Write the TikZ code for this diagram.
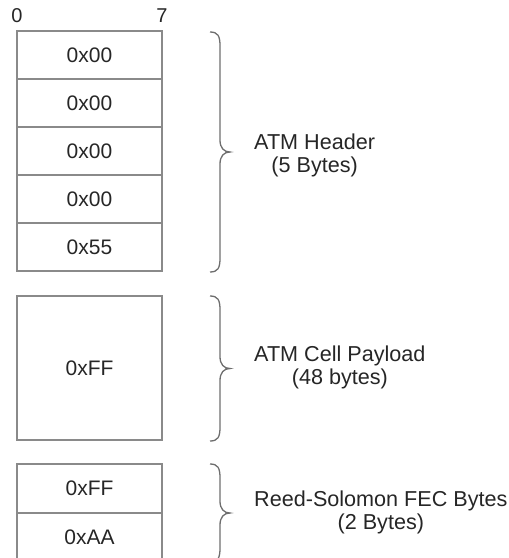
\documentclass[tikz,border=0pt]{standalone}
\usepackage{fontspec}
\setmainfont{Liberation Sans}
\begin{document}
\begin{tikzpicture}[x=1pt,y=-1pt,
  cell/.style={draw=boxgray,line width=1.3pt,minimum width=145pt,inner sep=0pt,outer sep=0pt,font=\fontsize{21}{23}\selectfont,text=black!85},
  lbl/.style={anchor=west,align=center,inner sep=0pt,font=\fontsize{21.6}{23}\selectfont,text=black!85},
  bit/.style={inner sep=0pt,font=\fontsize{20}{22}\selectfont,text=black!85},
  brc/.style={draw=bracegray,line width=1.3pt}]
\definecolor{boxgray}{HTML}{8A8A8A}
\definecolor{bracegray}{HTML}{6E6E6E}
\useasboundingbox (0,0) rectangle (509,558);
% bit labels
\node[bit] (b0) at (17,16) {0};
\node[bit] (b7) at (162,16) {7};
% header cells
\node[cell,minimum height=48pt] (h1) at (89.5,55) {0x00};
\node[cell,minimum height=48pt] (h2) at (89.5,103) {0x00};
\node[cell,minimum height=48pt] (h3) at (89.5,151) {0x00};
\node[cell,minimum height=48pt] (h4) at (89.5,199) {0x00};
\node[cell,minimum height=48pt] (h5) at (89.5,247) {0x55};
% payload
\node[cell,minimum height=144pt] (p) at (89.5,368) {0xFF};
% FEC
\node[cell,minimum height=49pt] (f1) at (89.5,488.5) {0xFF};
\node[cell,minimum height=49pt] (f2) at (89.5,537.5) {0xAA};
% braces
\coordinate (ht) at (210,32);
\coordinate (hb) at (210,272);
\coordinate (hm) at (230,152);
\draw[brc] (ht) .. controls (218,32) and (220,36) .. (220,46) -- (220,140) .. controls (220,148) and (224,152) .. (hm)
  .. controls (224,152) and (220,156) .. (220,164) -- (220,258) .. controls (220,268) and (218,272) .. (hb);
\coordinate (pt) at (210,296);
\coordinate (pb) at (210,441);
\coordinate (pm) at (230,368.5);
\draw[brc] (pt) .. controls (218,296) and (220,300) .. (220,310) -- (220,356.5) .. controls (220,364.5) and (224,368.5) .. (pm)
  .. controls (224,368.5) and (220,372.5) .. (220,380.5) -- (220,427) .. controls (220,437) and (218,441) .. (pb);
\coordinate (ft) at (210,464);
\coordinate (fb) at (210,562);
\coordinate (fm) at (230,513);
\draw[brc] (ft) .. controls (218,464) and (220,468) .. (220,478) -- (220,501) .. controls (220,509) and (224,513) .. (fm)
  .. controls (224,513) and (220,517) .. (220,525) -- (220,548) .. controls (220,558) and (218,562) .. (fb);
% labels
\node[lbl] (lh) at (254,155) {ATM Header\\(5 Bytes)};
\node[lbl] (lp) at (254,367) {ATM Cell Payload\\(48 bytes)};
\node[lbl] (lf) at (254,512) {Reed-Solomon FEC Bytes\\(2 Bytes)};
\end{tikzpicture}
\end{document}
